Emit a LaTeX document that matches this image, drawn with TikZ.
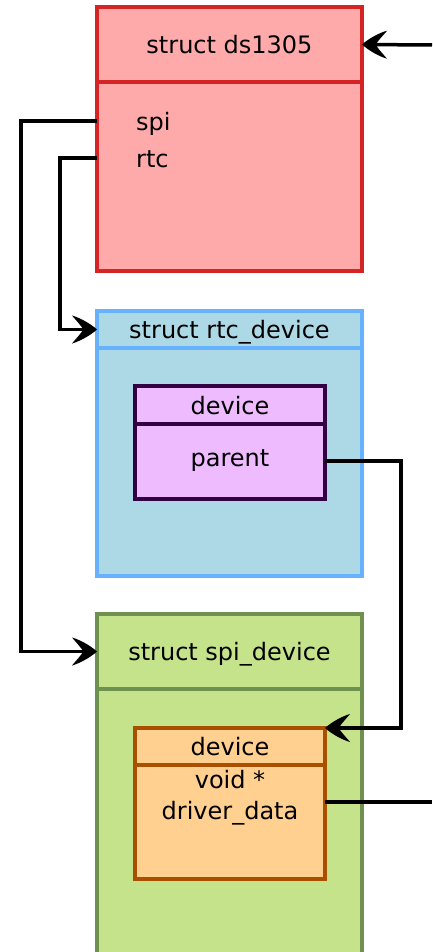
\documentclass[tikz,border=0pt]{standalone}
\usepackage{fontspec}
\setmainfont{DejaVu Sans}
\usetikzlibrary{arrows.meta}

\definecolor{dsfill}{RGB}{255,170,170}
\definecolor{dsline}{RGB}{212,36,36}
\definecolor{rtfill}{RGB}{173,216,230}
\definecolor{rtline}{RGB}{102,178,255}
\definecolor{pufill}{RGB}{238,187,255}
\definecolor{puline}{RGB}{51,0,68}
\definecolor{spfill}{RGB}{197,227,139}
\definecolor{spline}{RGB}{111,145,80}
\definecolor{orfill}{RGB}{255,208,144}
\definecolor{orline}{RGB}{168,80,0}

% filled dart-shaped arrow head with slightly bulging sides and a notched back
\pgfdeclarearrow{
  name = Dart,
  setup code = {
    \pgfarrowssettipend{0pt}
    \pgfarrowssetbackend{-25pt}
    \pgfarrowssetlineend{-12pt}
  },
  drawing code = {
    \pgfpathmoveto{\pgfqpoint{0pt}{0pt}}
    \pgfpathcurveto{\pgfqpoint{-8pt}{7pt}}{\pgfqpoint{-18pt}{12pt}}{\pgfqpoint{-25pt}{14pt}}
    \pgfpathcurveto{\pgfqpoint{-20pt}{8pt}}{\pgfqpoint{-15pt}{3pt}}{\pgfqpoint{-14pt}{0pt}}
    \pgfpathcurveto{\pgfqpoint{-15pt}{-3pt}}{\pgfqpoint{-20pt}{-8pt}}{\pgfqpoint{-25pt}{-14pt}}
    \pgfpathcurveto{\pgfqpoint{-18pt}{-12pt}}{\pgfqpoint{-8pt}{-7pt}}{\pgfqpoint{0pt}{0pt}}
    \pgfpathclose
    \pgfusepathqfill
  }
}

\tikzset{
  box/.style={draw, line width=3.5pt, anchor=north west, inner sep=0pt, outer sep=0pt,
              text height=18pt, text depth=0pt, font=\fontsize{24}{28}\selectfont},
  lbl/.style={font=\fontsize{24}{28}\selectfont, inner sep=0pt, text height=17pt, text depth=4pt},
  link/.style={line width=3.5pt, draw=black},
  arrowlink/.style={link, -{Dart}}
}

\begin{document}
\begin{tikzpicture}[x=1pt,y=1pt]
\useasboundingbox (0,-952) rectangle (432,0);

% struct ds1305
\node[box, fill=dsfill, draw=dsline, minimum width=265pt, minimum height=189pt] (dsbody) at (97,-82) {};
\node[box, fill=dsfill, draw=dsline, minimum width=265pt, minimum height=75pt] (dshead) at (97,-7) {struct ds1305};
\node[lbl, anchor=west] (spi) at (136,-124) {spi};
\node[lbl, anchor=west] (rtc) at (136,-161) {rtc};

% struct rtc_device
\node[box, fill=rtfill, draw=rtline, minimum width=265pt, minimum height=228pt] (rtbody) at (97,-348) {};
\node[box, fill=rtfill, draw=rtline, minimum width=265pt, minimum height=37pt] (rthead) at (97,-311) {struct rtc\_device};

% embedded device of rtc_device
\node[box, fill=pufill, draw=puline, minimum width=190pt, minimum height=75pt] (pubody) at (135,-424) {};
\node[box, fill=pufill, draw=puline, minimum width=190pt, minimum height=38pt] (puhead) at (135,-386) {device};
\node[lbl] (parent) at (230,-460) {parent};

% struct spi_device
\node[box, fill=spfill, draw=spline, minimum width=265pt, minimum height=272pt] (spbody) at (97,-689) {};
\node[box, fill=spfill, draw=spline, minimum width=265pt, minimum height=75pt] (sphead) at (97,-614) {struct spi\_device};

% embedded device of spi_device
\node[box, fill=orfill, draw=orline, minimum width=190pt, minimum height=114pt] (orbody) at (135,-765) {};
\node[box, fill=orfill, draw=orline, minimum width=190pt, minimum height=37pt] (orhead) at (135,-728) {device};
\node[lbl, anchor=base] (voidp) at (230,-788) {void *};
\node[lbl, anchor=base] (drvdata) at (230,-819) {driver\_data};

% free ends on the right
\coordinate (entry) at (432,-45);
\coordinate (dataexit) at (432,-802);

% connectors
\draw[arrowlink] (entry) -- (dshead.east);
\draw[arrowlink] (dsbody.west |- 0,-121) -- ++(-76,0) |- (sphead.west);
\draw[arrowlink] (dsbody.west |- 0,-158) -- ++(-37,0) |- (rthead.west);
\draw[arrowlink] (pubody.north east) ++(0,-37) -- ++(76,0) |- (orhead.north east);
\draw[link] (orbody.north east) ++(0,-37) -- (dataexit);
\end{tikzpicture}
\end{document}
